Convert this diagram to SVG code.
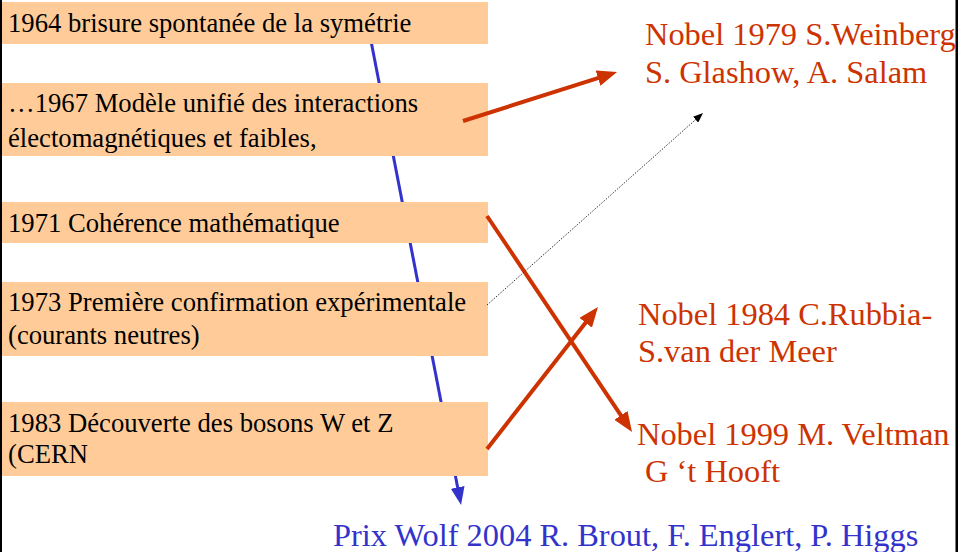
<svg xmlns="http://www.w3.org/2000/svg" width="962" height="552" viewBox="0 0 962 552">
<style>
.box{fill:#FFCC99}
.t{font-family:"Liberation Serif","Times New Roman",serif;font-size:26.67px;fill:#000}
.r{font-family:"Liberation Serif","Times New Roman",serif;font-size:32.4px;fill:#CC3300}
.b{font-family:"Liberation Serif","Times New Roman",serif;font-size:32.4px;fill:#3333CC}
.red{stroke:#CC3300;stroke-width:4;fill:none;marker-end:url(#ar)}
.blue{stroke:#3333CC;stroke-width:3;fill:none;marker-end:url(#ab)}
.dot{stroke:#333;stroke-width:1;stroke-dasharray:1.5 1.5;fill:none;marker-end:url(#ak)}
</style>
<defs>
<marker id="ar" markerUnits="userSpaceOnUse" markerWidth="20" markerHeight="16" refX="4" refY="8" orient="auto"><path d="M0,0 L20,8 L0,16 z" fill="#CC3300"/></marker>
<marker id="ab" markerUnits="userSpaceOnUse" markerWidth="18" markerHeight="14" refX="3" refY="7" orient="auto"><path d="M0,0 L18,7 L0,14 z" fill="#3333CC"/></marker>
<marker id="ak" markerUnits="userSpaceOnUse" markerWidth="10" markerHeight="8" refX="1" refY="4" orient="auto"><path d="M0,0 L10,4 L0,8 z" fill="#000"/></marker>
</defs>
<rect x="0" y="0" width="962" height="552" fill="#fff"/>
<g id="timeline">
<path class="blue" d="M365,10 L458.2,490.3"/>
</g>
<g id="n1964"><rect class="box" x="0" y="2" width="488" height="42"/><text class="t" x="8" y="32">1964 brisure spontanée de la symétrie</text></g>
<g id="n1967"><rect class="box" x="0" y="83" width="488" height="73"/><text class="t" x="8" y="112">…1967 Modèle unifié des interactions</text><text class="t" x="8" y="147">électomagnétiques et faibles,</text></g>
<g id="n1971"><rect class="box" x="0" y="202" width="488" height="41"/><text class="t" x="8" y="232">1971 Cohérence mathématique</text></g>
<g id="n1973"><rect class="box" x="0" y="282" width="488" height="74"/><text class="t" x="8" y="311">1973 Première confirmation expérimentale</text><text class="t" x="8" y="344">(courants neutres)</text></g>
<g id="n1983"><rect class="box" x="0" y="402" width="488" height="74"/><text class="t" x="8" y="432">1983 Découverte des bosons W et Z</text><text class="t" x="8" y="463">(CERN</text></g>
<g id="nobel1979"><text class="r" x="645" y="45">Nobel 1979 S.Weinberg,</text><text class="r" x="645" y="83">S. Glashow, A. Salam</text></g>
<g id="nobel1984"><text class="r" x="638" y="325">Nobel 1984 C.Rubbia-</text><text class="r" x="638" y="362">S.van der Meer</text></g>
<g id="nobel1999"><text class="r" x="637" y="445">Nobel 1999 M. Veltman</text><text class="r" x="637" y="482" xml:space="preserve"> G ‘t Hooft</text></g>
<g id="wolf"><text class="b" x="333" y="546">Prix Wolf 2004 R. Brout, F. Englert, P. Higgs</text></g>
<g id="connectors">
<path class="red" d="M463,121 L601.8,76.9"/>
<path class="red" d="M487,216 L623.1,418.7"/>
<path class="red" d="M487,449 L588.1,319.6"/>
<path class="dot" d="M487,305 L696.3,119"/>
</g>
<g id="frame">
<rect x="0" y="0" width="2" height="552" fill="#000"/>
<rect x="955.5" y="0" width="2.5" height="552" fill="#000"/>
<rect x="958" y="0" width="4" height="552" fill="#fff"/>
</g>
</svg>
